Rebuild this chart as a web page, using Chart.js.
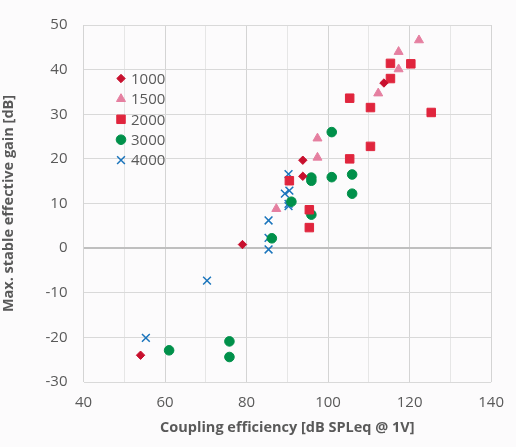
<!DOCTYPE html>
<html>
<head>
<meta charset="utf-8">
<script src="https://cdn.jsdelivr.net/npm/chart.js@4/dist/chart.umd.min.js"></script>
<style>
  html, body { margin: 0; padding: 0; background: #fcfbfc; }
  #wrap { width: 516px; height: 447px; }
</style>
</head>
<body>
<div id="wrap"><canvas id="chart" width="516" height="447"></canvas></div>
<script>
// Valeurs (x = couplage, y = gain)
const series = ['1000', '1500', '2000', '3000', '4000'];

const x1000 = [54, 79, 93.8, 93.8, 113.7];
const y1000 = [-24, 0.8, 19.7, 16.1, 37];

const x1500 = [87.3, 97.4, 97.4, 112.3, 117.3, 117.3, 122.3];
const y1500 = [8.8, 20.3, 24.6, 34.7, 40.1, 44, 46.6];

const x2000 = [90.5, 95.4, 95.4, 105.3, 105.3, 110.4, 110.4, 115.3, 115.3, 120.3, 125.3];
const y2000 = [15.1, 8.6, 4.6, 20, 33.6, 22.8, 31.5, 38, 41.4, 41.3, 30.4];

const x3000 = [61, 75.8, 75.8, 86.2, 91, 95.9, 95.9, 95.9, 100.9, 100.9, 105.9, 105.9];
const y3000 = [-22.9, -20.9, -24.4, 2.2, 10.4, 15.8, 15.1, 7.5, 26, 15.9, 16.5, 12.2];

const x4000 = [55.3, 70.3, 85.4, 85.4, 85.4, 89.4, 90.3, 90.3, 90.5, 90.3];
const y4000 = [-20.1, -7.3, -0.3, 2.3, 6.2, 12.2, 9.4, 9.9, 12.9, 16.6];

const xTicks = [40, 60, 80, 100, 120, 140];
const yTicks = [-30, -20, -10, 0, 10, 20, 30, 40, 50];

const textColor = '#595959';
const fontFam = '"Open Sans", "Noto Sans", sans-serif';

function pts(xs, ys) {
  return xs.map((x, i) => ({ x: x, y: ys[i] }));
}

const styles = [
  { pointStyle: 'rectRot', color: '#c8102e', radius: 4.2 },
  { pointStyle: 'triangle', color: '#e57fa0', radius: 5.2 },
  { pointStyle: 'rect', color: '#e0253d', radius: 6 },
  { pointStyle: 'circle', color: '#00904a', radius: 4.8 },
  { pointStyle: 'crossRot', color: '#1b75bc', radius: 5.5 }
];

const allX = [x1000, x1500, x2000, x3000, x4000];
const allY = [y1000, y1500, y2000, y3000, y4000];

const datasets = series.map((name, i) => ({
  label: name,
  data: pts(allX[i], allY[i]),
  pointStyle: styles[i].pointStyle,
  pointRadius: styles[i].radius,
  pointHoverRadius: styles[i].radius,
  backgroundColor: styles[i].color,
  borderColor: styles[i].color,
  pointBorderWidth: i === 4 ? 1.5 : 1,
  showLine: false
}));

// legende dessinee dans la zone du graphique
const legendeInterne = {
  id: 'legendeInterne',
  afterDatasetsDraw(chart) {
    const ctx = chart.ctx;
    ctx.save();
    ctx.font = '15px ' + fontFam;
    ctx.textBaseline = 'middle';
    ctx.textAlign = 'left';
    const y0 = 78.5;
    const step = 20.4;
    chart.data.datasets.forEach((ds, i) => {
      const y = y0 + i * step;
      ctx.fillStyle = ds.backgroundColor;
      ctx.strokeStyle = ds.borderColor;
      ctx.lineWidth = ds.pointBorderWidth;
      Chart.helpers.drawPoint(ctx, { pointStyle: ds.pointStyle, radius: ds.pointRadius, rotation: 0, borderWidth: ds.pointBorderWidth }, 121, y);
      ctx.fillStyle = textColor;
      ctx.fillText(ds.label, 131, y + 1);
    });
    ctx.restore();
  }
};

new Chart(document.getElementById('chart'), {
  type: 'scatter',
  data: { datasets: datasets },
  plugins: [legendeInterne],
  options: {
    responsive: false,
    animation: false,
    layout: { padding: { top: 22, right: 16, bottom: 0, left: 0 } },
    plugins: {
      legend: { display: false },
      tooltip: { enabled: false }
    },
    scales: {
      x: {
        type: 'linear',
        min: 40,
        max: 140,
        afterBuildTicks: (scale) => {
          const t = [];
          for (let v = 40; v <= 140; v += 10) t.push({ value: v });
          scale.ticks = t;
        },
        afterFit: (scale) => { scale.height = 65; },
        grid: {
          color: (c) => (c.tick && c.tick.value % 20 === 0) ? '#d4d4d4' : '#e6e6e6',
          lineWidth: 1,
          drawTicks: false
        },
        border: { display: false },
        ticks: {
          padding: 12,
          color: textColor,
          font: { size: 15, family: fontFam },
          callback: (v) => xTicks.includes(v) ? String(v) : ''
        },
        title: {
          display: true,
          text: 'Coupling efficiency [dB SPLeq @ 1V]',
          color: textColor,
          font: { size: 14.5, weight: 'bold', family: fontFam },
          padding: { top: 2, bottom: 10 }
        }
      },
      y: {
        type: 'linear',
        min: -30,
        max: 50,
        afterBuildTicks: (scale) => {
          scale.ticks = yTicks.map(v => ({ value: v }));
        },
        afterFit: (scale) => { scale.width = 83.5; },
        grid: {
          color: (c) => (c.tick && c.tick.value === 0) ? '#bfbfbf' : '#d9d9d9',
          lineWidth: (c) => (c.tick && c.tick.value === 0) ? 2 : 1,
          drawTicks: false
        },
        border: { display: false },
        ticks: {
          padding: 16,
          color: textColor,
          font: { size: 15, family: fontFam }
        },
        title: {
          display: true,
          text: 'Max. stable effective gain [dB]',
          color: textColor,
          font: { size: 14.5, weight: 'bold', family: fontFam },
          padding: { top: 0, bottom: 4 }
        }
      }
    }
  }
});
</script>
</body>
</html>
